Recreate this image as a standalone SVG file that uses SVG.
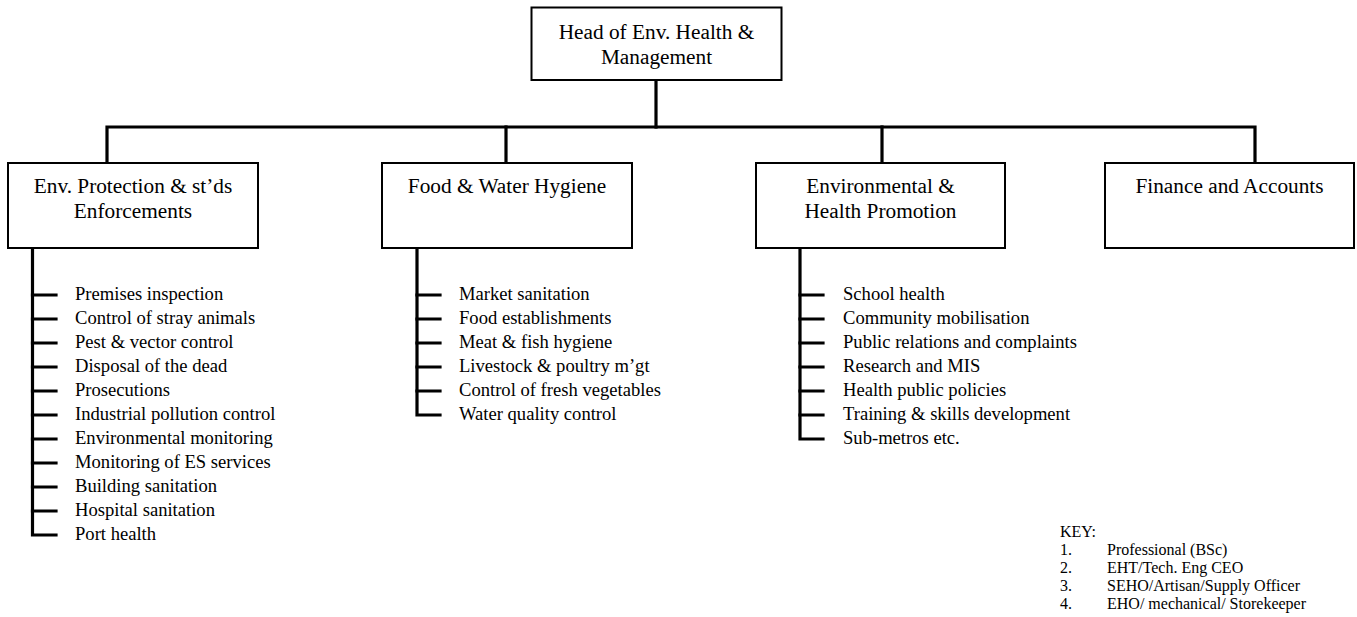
<svg xmlns="http://www.w3.org/2000/svg" width="1357" height="617" viewBox="0 0 1357 617">
<style>
.box{fill:#fff;stroke:#000;stroke-width:2}
.ttl{font-family:"Liberation Serif","Times New Roman",serif;font-size:21.3px;fill:#000;text-anchor:middle}
.itm{font-family:"Liberation Serif","Times New Roman",serif;font-size:18.6px;fill:#000}
.key{font-family:"Liberation Serif","Times New Roman",serif;font-size:16px;fill:#000}
.con{fill:none;stroke:#000;stroke-width:3.2;stroke-linejoin:miter;stroke-linecap:square}
</style>
<rect width="1357" height="617" fill="#fff"/>
<g id="connectors">
<path class="con" d="M656,80 V127"/>
<path class="con" d="M107,163 V127 H1255 V163"/>
<path class="con" d="M506,127 V163"/>
<path class="con" d="M882,127 V163"/>
<path class="con" d="M32.5,248 V535 H56"/>
<path class="con" d="M32.5,295 H56 M32.5,319 H56 M32.5,343 H56 M32.5,367 H56 M32.5,391 H56 M32.5,415 H56 M32.5,439 H56 M32.5,463 H56 M32.5,487 H56 M32.5,511 H56"/>
<path class="con" d="M417,248 V415 H440"/>
<path class="con" d="M417,295 H440 M417,319 H440 M417,343 H440 M417,367 H440 M417,391 H440"/>
<path class="con" d="M800,248 V439 H823"/>
<path class="con" d="M800,295 H823 M800,319 H823 M800,343 H823 M800,367 H823 M800,391 H823 M800,415 H823"/>
</g>
<g id="head">
<rect class="box" x="531.5" y="7.5" width="250" height="72.5"/>
<text class="ttl" x="656.5" y="38.5">Head of Env. Health &amp;</text>
<text class="ttl" x="656.5" y="63.5">Management</text>
</g>
<g id="env-protection">
<rect class="box" x="8" y="163" width="250" height="85"/>
<text class="ttl" x="133" y="193">Env. Protection &amp; st’ds</text>
<text class="ttl" x="133" y="218">Enforcements</text>
</g>
<g id="food-water">
<rect class="box" x="382" y="163" width="250" height="85"/>
<text class="ttl" x="507" y="193">Food &amp; Water Hygiene</text>
</g>
<g id="env-health-promotion">
<rect class="box" x="756" y="163" width="249" height="85"/>
<text class="ttl" x="880.5" y="193">Environmental &amp;</text>
<text class="ttl" x="880.5" y="218">Health Promotion</text>
</g>
<g id="finance">
<rect class="box" x="1105" y="163" width="249" height="85"/>
<text class="ttl" x="1229.5" y="193">Finance and Accounts</text>
</g>
<g id="list-env-protection" class="itm">
<text x="75" y="299.5">Premises inspection</text>
<text x="75" y="323.5">Control of stray animals</text>
<text x="75" y="347.5">Pest &amp; vector control</text>
<text x="75" y="371.5">Disposal of the dead</text>
<text x="75" y="395.5">Prosecutions</text>
<text x="75" y="419.5">Industrial pollution control</text>
<text x="75" y="443.5">Environmental monitoring</text>
<text x="75" y="467.5">Monitoring of ES services</text>
<text x="75" y="491.5">Building sanitation</text>
<text x="75" y="515.5">Hospital sanitation</text>
<text x="75" y="539.5">Port health</text>
</g>
<g id="list-food-water" class="itm">
<text x="459" y="299.5">Market sanitation</text>
<text x="459" y="323.5">Food establishments</text>
<text x="459" y="347.5">Meat &amp; fish hygiene</text>
<text x="459" y="371.5">Livestock &amp; poultry m’gt</text>
<text x="459" y="395.5">Control of fresh vegetables</text>
<text x="459" y="419.5">Water quality control</text>
</g>
<g id="list-promotion" class="itm">
<text x="843" y="299.5">School health</text>
<text x="843" y="323.5">Community mobilisation</text>
<text x="843" y="347.5">Public relations and complaints</text>
<text x="843" y="371.5">Research and MIS</text>
<text x="843" y="395.5">Health public policies</text>
<text x="843" y="419.5">Training &amp; skills development</text>
<text x="843" y="443.5">Sub-metros etc.</text>
</g>
<g id="key" class="key">
<text x="1060" y="537">KEY:</text>
<text x="1060" y="555">1.</text><text x="1107" y="555">Professional (BSc)</text>
<text x="1060" y="573">2.</text><text x="1107" y="573">EHT/Tech. Eng CEO</text>
<text x="1060" y="591">3.</text><text x="1107" y="591">SEHO/Artisan/Supply Officer</text>
<text x="1060" y="609">4.</text><text x="1107" y="609">EHO/ mechanical/ Storekeeper</text>
</g>
</svg>
